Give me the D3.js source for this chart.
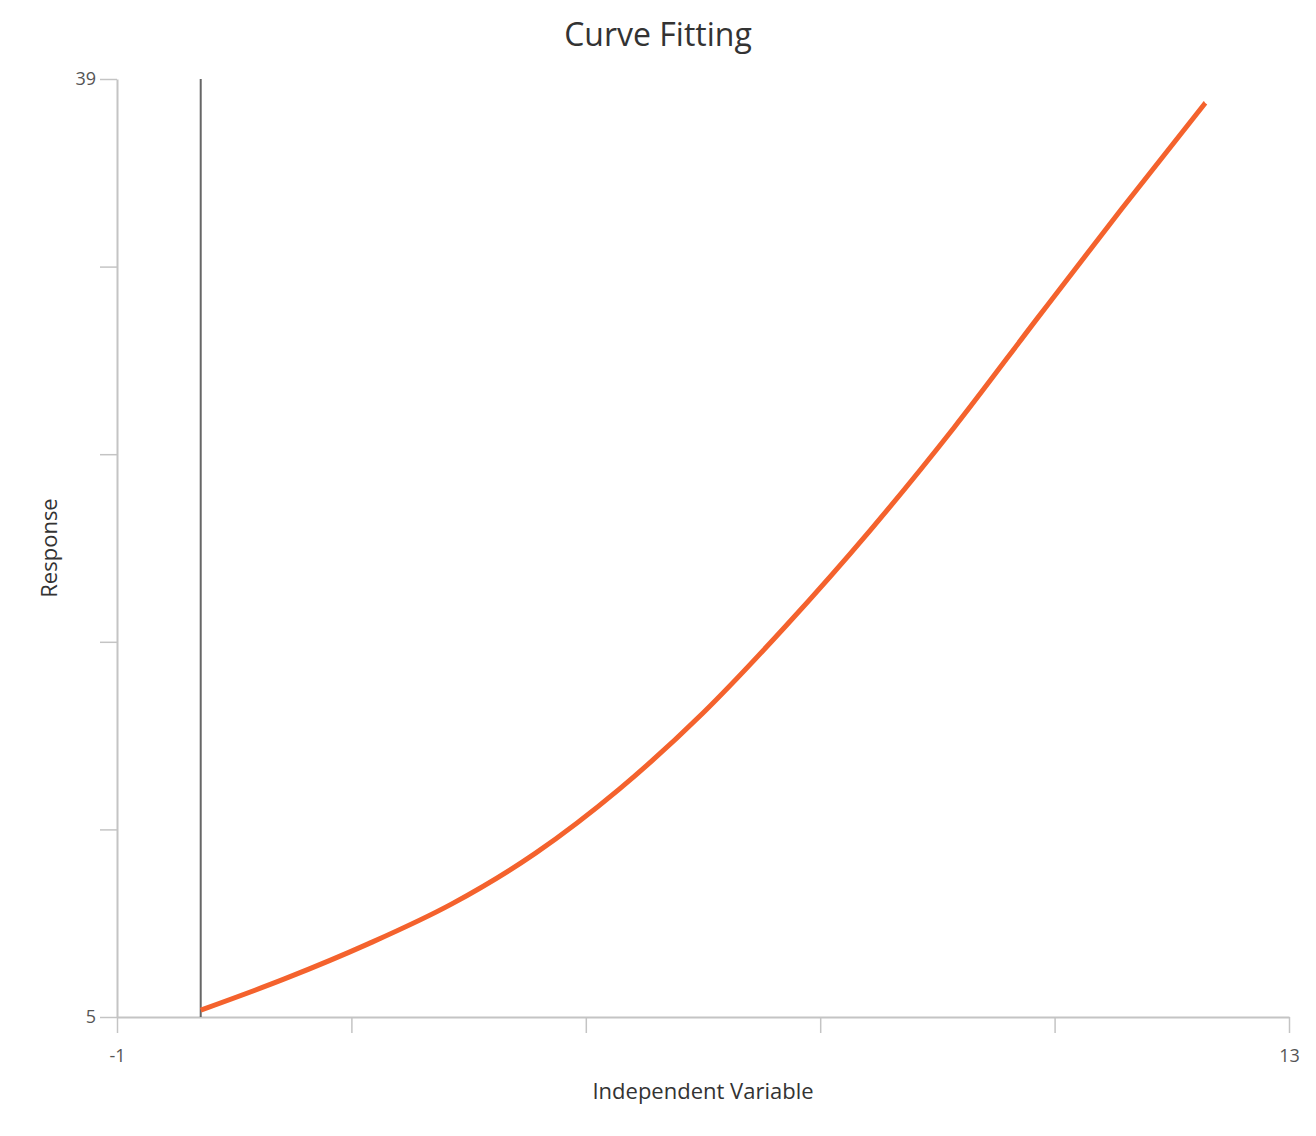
<!DOCTYPE html>
<html>
<head>
<meta charset="utf-8">
<script src="https://cdn.jsdelivr.net/npm/d3@7"></script>
<style>
  body { margin: 0; background: #fff; }
  text { font-family: "Open Sans", "Noto Sans", sans-serif; }
</style>
</head>
<body>
<div id="chart"></div>
<script>
// fitted curve
const xValues = [0, 1, 2, 3, 4, 5, 6, 7, 8, 9, 10, 11, 12];
const yValues = [5.25, 6.38, 7.65, 9.10, 10.94, 13.26, 16.02, 19.21, 22.65, 26.37, 30.35, 34.29, 38.13];
const xTicks = [-1, 1.8, 4.6, 7.4, 10.2, 13];
const yTicks = [5, 11.8, 18.6, 25.4, 32.2, 39];
const markerX = 0;

const W = 1316, H = 1136;
const margin = {top: 79, right: 27, bottom: 119, left: 117};
const width = W - margin.left - margin.right,
      height = H - margin.top - margin.bottom;

const svg = d3.select("#chart").append("svg")
  .attr("width", W).attr("height", H);

const g = svg.append("g")
  .attr("transform", `translate(${margin.left}, ${margin.top})`);

const x = d3.scaleLinear().domain([-1, 13]).range([0, width]);
const y = d3.scaleLinear().domain([5, 39]).range([height, 0]);

// axes: only the end ticks get labels
const endOnly = (ticks) => (d) => (d === ticks[0] || d === ticks[ticks.length - 1]) ? d : "";

const xAxis = g.append("g")
  .attr("transform", `translate(0, ${height})`)
  .call(d3.axisBottom(x).tickValues(xTicks).tickSize(16).tickSizeOuter(0).tickFormat(endOnly(xTicks)));

const yAxis = g.append("g")
  .call(d3.axisLeft(y).tickValues(yTicks).tickSize(17).tickSizeOuter(0).tickFormat(endOnly(yTicks)));

[xAxis, yAxis].forEach(a => {
  a.select(".domain").attr("stroke", "#c4c4c4").attr("stroke-width", 2);
  a.selectAll(".tick line").attr("stroke", "#c4c4c4").attr("stroke-width", 1.5);
  a.selectAll(".tick text").attr("fill", "#555").style("font-size", "18px")
    .style("font-family", "'Open Sans', 'Noto Sans', sans-serif");
});
xAxis.selectAll(".tick text").attr("dy", "1.45em");
yAxis.selectAll(".tick text").attr("x", -21);

// vertical marker line
g.append("line")
  .attr("x1", x(markerX)).attr("x2", x(markerX))
  .attr("y1", 0).attr("y2", height)
  .attr("stroke", "#666").attr("stroke-width", 2);

// the fitted curve
const line = d3.line()
  .x((d, i) => x(xValues[i]))
  .y(d => y(d))
  .curve(d3.curveMonotoneX);

g.append("path")
  .datum(yValues)
  .attr("d", line)
  .attr("fill", "none")
  .attr("stroke", "#f4622d")
  .attr("stroke-width", 5);

// title and axis labels
svg.append("text")
  .attr("x", W / 2).attr("y", 46)
  .attr("text-anchor", "middle")
  .attr("fill", "#333")
  .style("font-size", "32px")
  .text("Curve Fitting");

svg.append("text")
  .attr("x", margin.left + width / 2).attr("y", 1099)
  .attr("text-anchor", "middle")
  .attr("fill", "#333")
  .style("font-size", "22px")
  .text("Independent Variable");

svg.append("text")
  .attr("transform", `translate(57, ${margin.top + height / 2}) rotate(-90)`)
  .attr("text-anchor", "middle")
  .attr("fill", "#333")
  .style("font-size", "22px")
  .text("Response");
</script>
</body>
</html>
